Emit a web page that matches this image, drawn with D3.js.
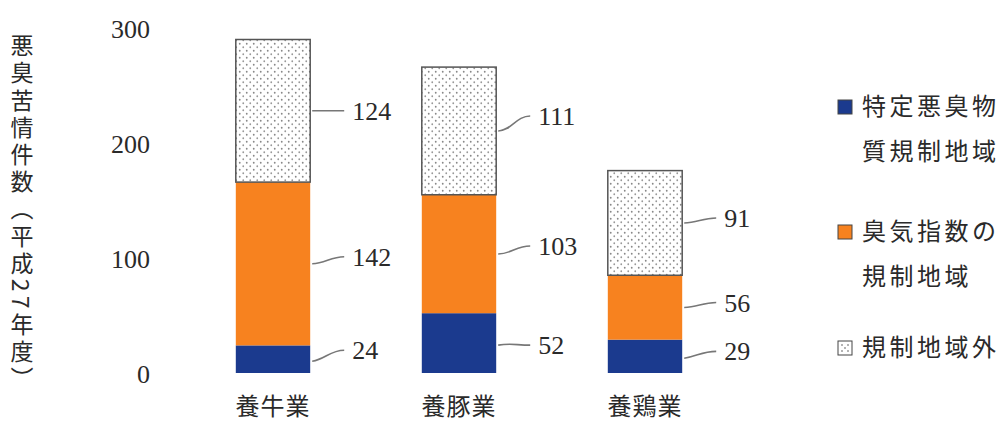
<!DOCTYPE html>
<html><head><meta charset="utf-8">
<script src="https://cdn.jsdelivr.net/npm/d3@7"></script>
<style>body{margin:0;background:#fff}svg{display:block}</style>
</head><body>
<svg id="c" width="1006" height="426"></svg>
<script>
const categories = ["養牛業", "養豚業", "養鶏業"];
const seriesNames = ["特定悪臭物質規制地域", "臭気指数の規制地域", "規制地域外"];
const specific = [24, 52, 29];
const odorIndex = [142, 103, 56];
const outside = [124, 111, 91];
const yTicks = [0, 100, 200, 300];
const yTitle = "悪臭苦情件数（平成27年度）";
const legendLines = [["特定悪臭物", "質規制地域"], ["臭気指数の", "規制地域"], ["規制地域外"]];

const svg = d3.select("#c");
const defs = svg.append("defs");
const pat = defs.append("pattern").attr("id","dots").attr("patternUnits","userSpaceOnUse")
  .attr("width",7).attr("height",7);
pat.append("rect").attr("width",7).attr("height",7).attr("fill","#fff");
pat.append("circle").attr("cx",1.75).attr("cy",1.75).attr("r",0.9).attr("fill","#888");
pat.append("circle").attr("cx",5.25).attr("cy",5.25).attr("r",0.9).attr("fill","#999");

const colors = ["#1b3a8e", "#f7821f", "url(#dots)"];
const serif = "'Liberation Serif','DejaVu Serif',serif";
const cjk = "'Noto Sans CJK JP','Noto Sans CJK SC',sans-serif";
const ink = "#2a2a2a";

const y = d3.scaleLinear().domain([0,300]).range([373,28]);
const x = d3.scaleBand().domain(categories).range([180,738]).paddingInner(0.6).paddingOuter(0.3);

const yAxis = d3.axisLeft(y).tickValues(yTicks).tickSize(0).tickPadding(0);
const ga = svg.append("g").attr("transform","translate(150,0)").call(yAxis);
ga.select(".domain").remove();
ga.selectAll("text").attr("font-family",serif).attr("font-size",26).attr("fill",ink).attr("dy","0.35em");

const xAxis = d3.axisBottom(x).tickSize(0).tickPadding(0);
const gx = svg.append("g").attr("transform","translate(0,397)").call(xAxis);
gx.select(".domain").remove();
gx.selectAll("text").attr("font-family",cjk).attr("font-size",24).attr("fill",ink).attr("letter-spacing",1).attr("dy","0.75em");

const stackData = categories.map((c,i)=>({cat:c, v:[specific[i], odorIndex[i], outside[i]]}));
const stack = d3.stack().keys([0,1,2]).value((d,k)=>d.v[k]);
const layers = stack(stackData);

const labelShift = [[-9,-7,0],[2,-8,-15],[-5,-5,-5]];

layers.forEach((layer,k)=>{
  svg.append("g").selectAll("rect").data(layer).join("rect")
    .attr("x",d=>x(d.data.cat))
    .attr("y",d=>y(d[1]))
    .attr("width",x.bandwidth())
    .attr("height",d=>y(d[0])-y(d[1]))
    .attr("fill",colors[k])
    .attr("stroke", k===2 ? "#555" : "none")
    .attr("stroke-width",1.5);
});

layers.forEach((layer,k)=>{
  layer.forEach((d,i)=>{
    const xr = x(d.data.cat)+x.bandwidth();
    const ym = y((d[0]+d[1])/2);
    const yl = ym + labelShift[i][k];
    svg.append("path")
      .attr("d",`M${xr+2},${ym+ (k===0?2:0)} C${xr+15},${ym} ${xr+20},${yl} ${xr+34},${yl}`)
      .attr("fill","none").attr("stroke","#777").attr("stroke-width",1.6);
    svg.append("text").attr("x",xr+42).attr("y",yl).attr("dy","0.35em")
      .attr("font-family",serif).attr("font-size",26).attr("fill",ink)
      .text(d.data.v[k]);
  });
});

svg.append("text").attr("x",22).attr("y",34)
  .attr("writing-mode","vertical-rl")
  .style("writing-mode","vertical-rl")
  .attr("font-family",cjk).attr("font-size",23).attr("fill",ink)
  .attr("letter-spacing",4.2)
  .text(yTitle);

const legY = [107, 232, 348];
const lg = svg.append("g");
seriesNames.forEach((n,k)=>{
  lg.append("rect").attr("x",838).attr("y",legY[k]-7).attr("width",14).attr("height",14)
    .attr("fill", k===2 ? "#fff" : colors[k]).attr("stroke","#444").attr("stroke-width",1);
  if(k===2){
    [[842,104],[848,104],[845,107],[842,110],[848,110]].forEach(p=>
      lg.append("circle").attr("cx",p[0]).attr("cy",p[1]-107+legY[k]).attr("r",0.8).attr("fill","#555"));
  }
  legendLines[k].forEach((t,j)=>{
    lg.append("text").attr("x",862).attr("y",legY[k]+j*45).attr("dy","0.35em")
      .attr("font-family",cjk).attr("font-size",24).attr("fill",ink).attr("letter-spacing",3.5).text(t);
  });
});
</script>
</body></html>
